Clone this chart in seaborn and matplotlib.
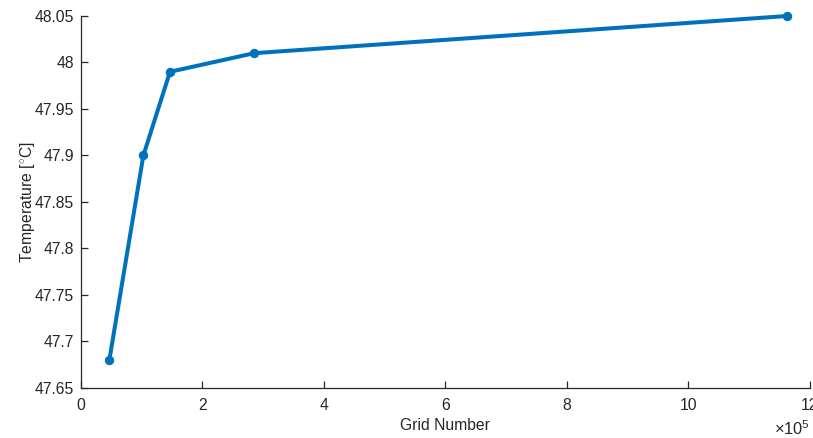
import numpy as np
import pandas as pd
import seaborn as sns
import matplotlib
matplotlib.use("Agg")
import matplotlib.pyplot as plt
from matplotlib.ticker import FuncFormatter, MultipleLocator

# grid independence data
grid_number = [46700, 102700, 146600, 285000, 1163000]
temperature = [47.68, 47.90, 47.99, 48.01, 48.05]
y_tick_labels = ["47.65", "47.7", "47.75", "47.8", "47.85", "47.9", "47.95", "48", "48.05"]

df = pd.DataFrame({"Grid Number": grid_number, "Temperature": temperature})

sns.set_theme(style="ticks")
plt.rcParams['font.family'] = ['Liberation Sans', 'DejaVu Sans']
plt.rcParams['mathtext.fontset'] = 'custom'
plt.rcParams['mathtext.rm'] = 'Liberation Sans'

text_col = "#262626"
fs = 11.3

fig = plt.figure(figsize=(8.13, 4.38), dpi=100)
ax = fig.add_axes([0.0996, 0.1142, 0.8965, 0.8493])

sns.lineplot(data=df, x="Grid Number", y="Temperature", ax=ax,
             color="#0072BD", linewidth=2.9, marker="o", markersize=6,
             markeredgecolor="#0072BD", clip_on=False)

ax.set_xlim(0, 1.2e6)
ax.set_ylim(47.65, 48.05)
ax.xaxis.set_major_locator(MultipleLocator(2e5))
ax.xaxis.set_major_formatter(FuncFormatter(lambda v, p: f"{v / 1e5:g}"))
ax.set_yticks(np.arange(47.65, 48.051, 0.05))
ax.set_yticklabels(y_tick_labels)

for s in ["top", "right"]:
    ax.spines[s].set_visible(False)
for s in ["left", "bottom"]:
    ax.spines[s].set_color(text_col)
    ax.spines[s].set_linewidth(0.9)

ax.tick_params(direction="in", length=5, width=0.9, colors=text_col,
               labelsize=fs, labelcolor=text_col)
ax.tick_params(axis="x", pad=7)
ax.tick_params(axis="y", pad=5)

ax.text(1.0, -0.085, r"$\times10^{5}$", transform=ax.transAxes, ha="right", va="top",
        fontsize=fs + 0.5, color=text_col)

ax.set_xlabel("Grid Number", fontsize=fs, color=text_col, labelpad=4)
ax.set_ylabel(r"Temperature [$^{\circ}$C]", fontsize=fs, color=text_col, labelpad=-2)

fig.savefig("out.png", dpi=100)
